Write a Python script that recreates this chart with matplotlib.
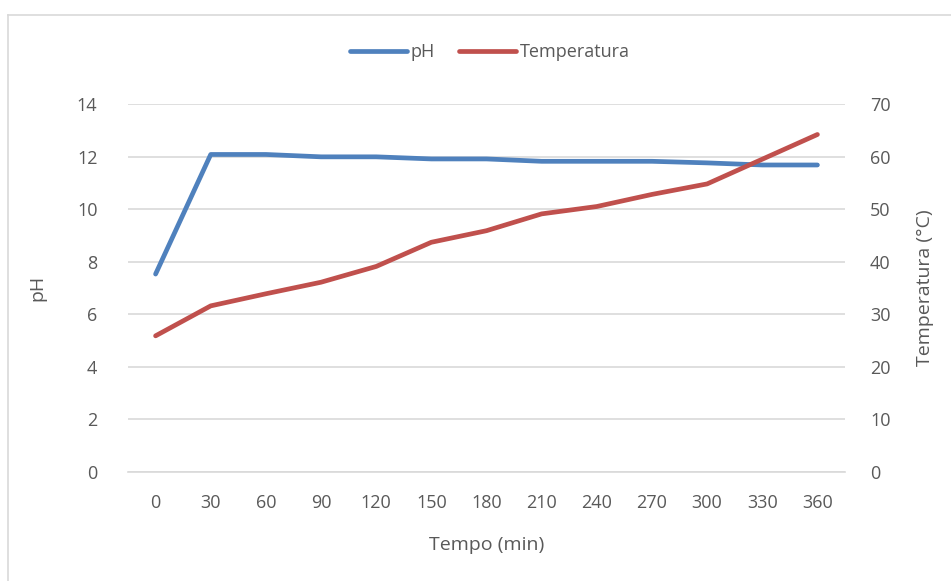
import matplotlib.pyplot as plt
from matplotlib.lines import Line2D

# Dados
tempo = ["0", "30", "60", "90", "120", "150", "180", "210", "240", "270", "300", "330", "360"]
ph = [7.53, 12.08, 12.08, 11.99, 11.99, 11.91, 11.91, 11.82, 11.82, 11.82, 11.76, 11.68, 11.68]
temperatura = [25.9, 31.6, 33.9, 36.1, 39.1, 43.7, 45.9, 49.1, 50.5, 52.8, 54.8, 59.5, 64.2]

azul = "#4F81BD"
vermelho = "#C0504D"
cinza = "#595959"

plt.rcParams['font.family'] = ['Open Sans', 'DejaVu Sans']

fig = plt.figure(figsize=(9.51, 5.81), dpi=100)
ax = fig.add_axes([128 / 951, 1 - 472 / 581, (845 - 128) / 951, (472 - 104) / 581])
ax2 = ax.twinx()

x = list(range(len(tempo)))
ax.plot(x, ph, color=azul, lw=3.4, solid_capstyle='round', solid_joinstyle='round', zorder=3)
ax2.plot(x, temperatura, color=vermelho, lw=3.4, solid_capstyle='round', solid_joinstyle='round', zorder=3)

ax.set_xlim(-0.5, len(tempo) - 0.5)
ax.set_ylim(0, 14)
ax.set_yticks(range(0, 15, 2))
ax2.set_ylim(0, 70)
ax2.set_yticks(range(0, 71, 10))
ax.set_xticks(x)
ax.set_xticklabels(tempo)

ax.grid(axis='y', color='#D9D9D9', lw=1.2)
ax.set_axisbelow(True)

for a in (ax, ax2):
    for s in a.spines.values():
        s.set_visible(False)
    a.tick_params(length=0, labelsize=13, colors=cinza)
ax.spines['bottom'].set_visible(True)
ax.spines['bottom'].set_color('#D9D9D9')
ax.spines['bottom'].set_linewidth(1.2)
ax.tick_params(axis='y', pad=22)
ax.tick_params(axis='x', pad=16)
ax2.tick_params(axis='y', pad=18)

ax.set_xlabel("Tempo (min)", fontsize=14, color=cinza, labelpad=17)
ax.set_ylabel("pH", fontsize=14, color=cinza, labelpad=22)
ax2.set_ylabel("Temperatura (°C)", fontsize=14, color=cinza, labelpad=18)

handles = [Line2D([], [], color=azul, lw=3.4, solid_capstyle='round'),
           Line2D([], [], color=vermelho, lw=3.4, solid_capstyle='round')]
fig.legend(handles, ["pH", "Temperatura"], loc='center', bbox_to_anchor=(0.515, 1 - 52 / 581),
           ncol=2, frameon=False, fontsize=13, labelcolor=cinza, handlelength=3.2,
           handletextpad=0.2, columnspacing=1.3)

# moldura
fig.add_artist(Line2D([8 / 951, 1], [1 - 15 / 581, 1 - 15 / 581], color='#D9D9D9', lw=1.2))
fig.add_artist(Line2D([8 / 951, 8 / 951], [0, 1 - 15 / 581], color='#D9D9D9', lw=1.2))

fig.savefig("out.png", dpi=100)
